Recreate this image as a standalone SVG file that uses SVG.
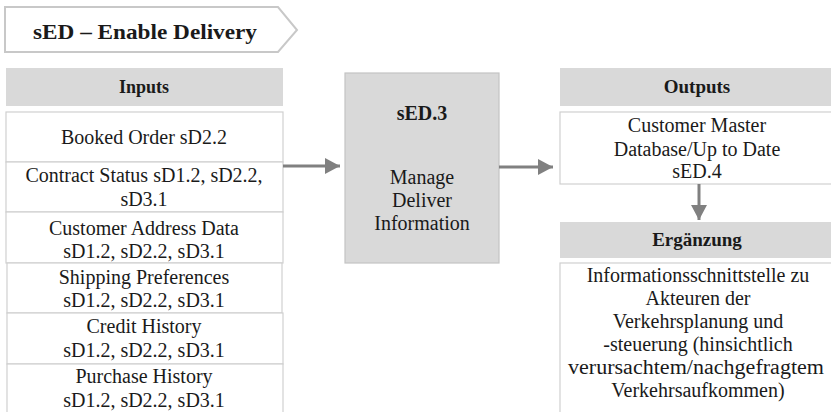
<svg xmlns="http://www.w3.org/2000/svg" width="831" height="412" viewBox="0 0 831 412">
<style>
  text { font-family: "Liberation Serif", "Times New Roman", serif; fill: #1a1a1a; text-anchor: middle; }
  .t { font-size: 20px; }
  .b { font-weight: bold; }
  .hdr { fill: #d9d9d9; stroke: none; }
  .cell { fill: #ffffff; stroke: #d0d0d0; stroke-width: 1.2; }
  .conn { stroke: #808080; stroke-width: 3; fill: none; marker-end: url(#ah); }
</style>
<defs>
  <marker id="ah" markerUnits="userSpaceOnUse" markerWidth="15" markerHeight="16" refX="15" refY="8" orient="auto">
    <path d="M0,0 L15,8 L0,16 z" fill="#808080"/>
  </marker>
</defs>
<rect width="831" height="412" fill="#ffffff"/>

<g id="title">
  <polygon points="5,7 278,7 297,30 278,52 5,52" fill="#ffffff" stroke="#c8c8c8" stroke-width="2"/>
  <text x="145" y="39" class="b" font-size="21" textLength="224" lengthAdjust="spacingAndGlyphs">sED – Enable Delivery</text>
</g>

<g id="inputs-header">
  <rect class="hdr" x="6" y="68" width="277" height="38"/>
  <text x="144" y="93" class="b" font-size="18">Inputs</text>
</g>
<g id="input-booked-order">
  <rect class="cell" x="6" y="112" width="277" height="50"/>
  <text x="144" y="144" class="t">Booked Order sD2.2</text>
</g>
<g id="input-contract-status">
  <rect class="cell" x="6" y="162" width="277" height="50"/>
  <text x="144" y="182" class="t">Contract Status sD1.2, sD2.2,</text>
  <text x="144" y="206" class="t">sD3.1</text>
</g>
<g id="input-customer-address">
  <rect class="cell" x="6" y="212" width="277" height="51"/>
  <text x="144" y="235" class="t">Customer Address Data</text>
  <text x="144" y="258" class="t">sD1.2, sD2.2, sD3.1</text>
</g>
<g id="input-shipping">
  <rect class="cell" x="7" y="263" width="275" height="50"/>
  <text x="144" y="284" class="t">Shipping Preferences</text>
  <text x="144" y="307" class="t">sD1.2, sD2.2, sD3.1</text>
</g>
<g id="input-credit">
  <rect class="cell" x="7" y="313" width="276" height="51"/>
  <text x="144" y="333" class="t">Credit History</text>
  <text x="144" y="357" class="t">sD1.2, sD2.2, sD3.1</text>
</g>
<g id="input-purchase">
  <rect class="cell" x="7" y="364" width="276" height="60"/>
  <text x="144" y="383" class="t">Purchase History</text>
  <text x="144" y="407" class="t">sD1.2, sD2.2, sD3.1</text>
</g>

<g id="process-sED3">
  <rect x="345" y="73" width="154" height="190" fill="#d9d9d9" stroke="#c4c4c4" stroke-width="1.2"/>
  <text x="422" y="120" class="b" font-size="20">sED.3</text>
  <text x="422" y="184" class="t">Manage</text>
  <text x="422" y="207" class="t">Deliver</text>
  <text x="422" y="230" class="t">Information</text>
</g>

<g id="outputs-header">
  <rect class="hdr" x="560" y="68" width="272" height="38"/>
  <text x="697" y="93" class="b" font-size="19">Outputs</text>
</g>
<g id="output-customer-master">
  <rect class="cell" x="560" y="112" width="272" height="72"/>
  <text x="697" y="132" class="t">Customer Master</text>
  <text x="697" y="156" class="t">Database/Up to Date</text>
  <text x="697" y="178" class="t">sED.4</text>
</g>

<g id="ergaenzung-header">
  <rect class="hdr" x="560" y="222" width="272" height="36"/>
  <text x="697" y="246" class="b" font-size="19">Ergänzung</text>
</g>
<g id="ergaenzung-body">
  <rect class="cell" x="560" y="263" width="272" height="160"/>
  <text x="698" y="282" class="t">Informationsschnittstelle  zu</text>
  <text x="698" y="305" class="t">Akteuren der</text>
  <text x="698" y="328" class="t">Verkehrsplanung  und</text>
  <text x="698" y="351" class="t">-steuerung (hinsichtlich</text>
  <text x="696" y="374" class="t" textLength="256" lengthAdjust="spacingAndGlyphs">verursachtem/nachgefragtem</text>
  <text x="698" y="397" class="t">Verkehrsaufkommen)</text>
</g>

<g id="connectors">
  <line class="conn" x1="283" y1="166" x2="340" y2="166"/>
  <line class="conn" x1="499" y1="167" x2="553" y2="167"/>
  <line class="conn" x1="699" y1="184" x2="699" y2="220"/>
</g>
</svg>
